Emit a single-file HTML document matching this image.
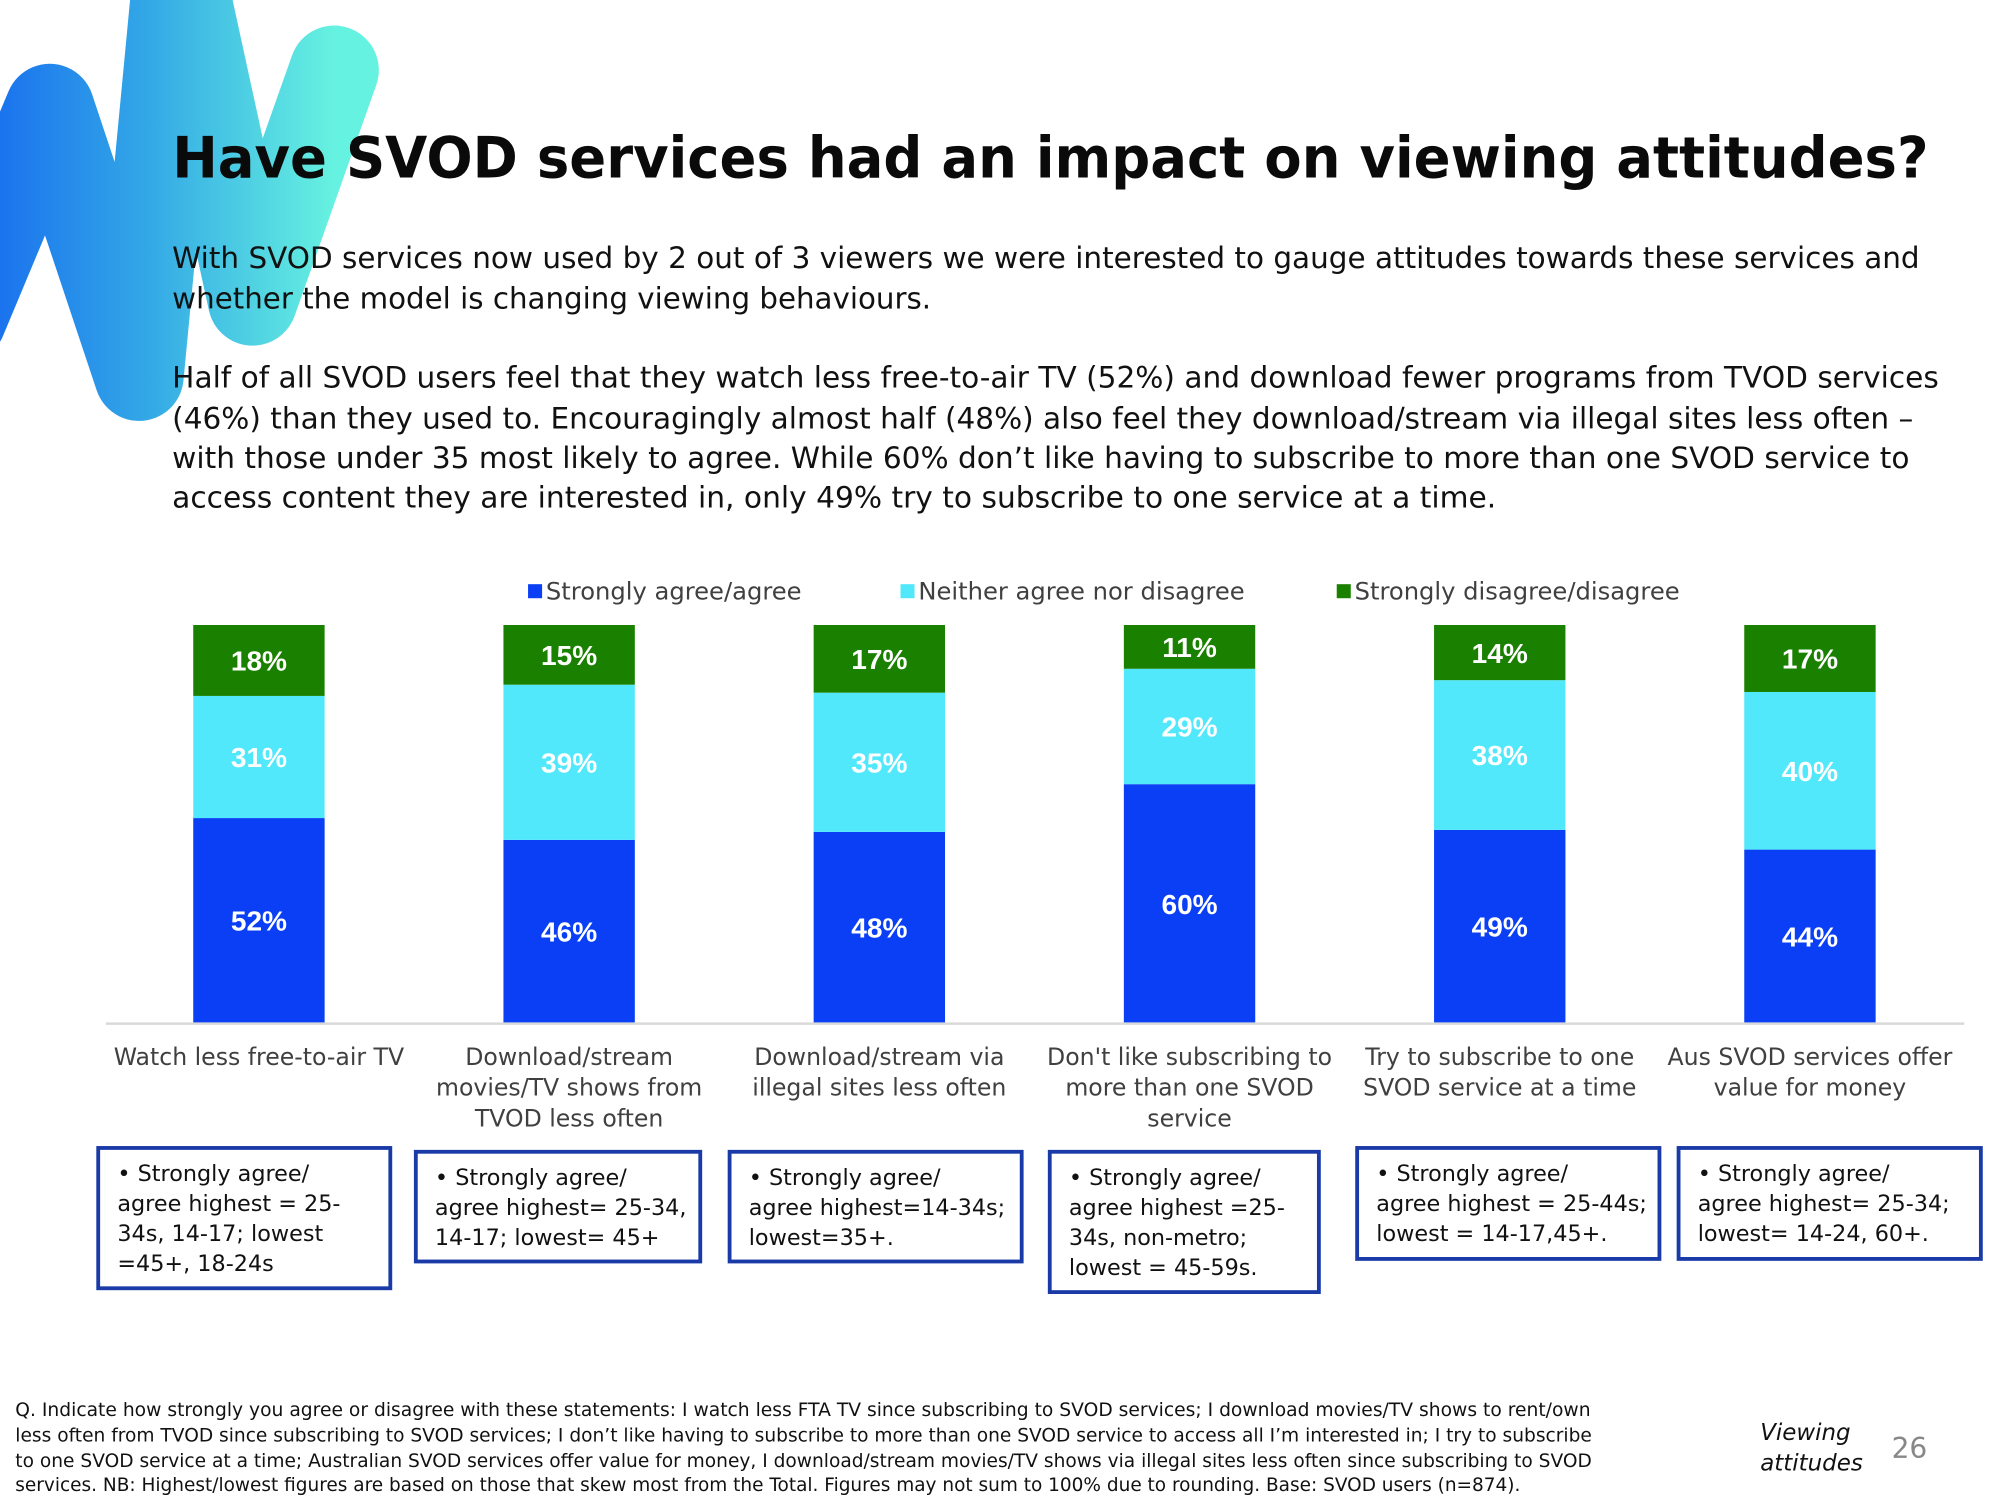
<!DOCTYPE html>
<html><head><meta charset="utf-8">
<style>
html,body{margin:0;padding:0;background:#fff;}
svg{display:block;}
text{font-family:"DejaVu Sans","Liberation Sans",sans-serif;}
text.val{font-family:"Liberation Sans",sans-serif;}
</style></head>
<body>
<svg id="slide" width="2000" height="1500" viewBox="0 0 1568 1176" preserveAspectRatio="none" xmlns="http://www.w3.org/2000/svg">
<defs>
<linearGradient id="lg" x1="0" y1="0" x2="1" y2="0">
<stop offset="0" stop-color="#1466f0"/><stop offset="0.5" stop-color="#33a8e6"/><stop offset="1" stop-color="#66f2e0"/>
</linearGradient>
</defs>
<path d="M -30 250 L 39 85 L 109 295 L 140 -30 M 140 -30 L 198 236 L 262 55" fill="none" stroke="url(#lg)" stroke-width="70" stroke-linejoin="round" stroke-linecap="round"/>
<text x="135" y="139" font-size="45" font-weight="bold" fill="#0a0a0a" textLength="1377" lengthAdjust="spacingAndGlyphs">Have SVOD services had an impact on viewing attitudes?</text>
<g font-size="23" fill="#111">
<text x="135" y="210" textLength="1370" lengthAdjust="spacingAndGlyphs">With SVOD services now used by 2 out of 3 viewers we were interested to gauge attitudes towards these services and</text>
<text x="135" y="242" textLength="595" lengthAdjust="spacingAndGlyphs">whether the model is changing viewing behaviours.</text>
<text x="135" y="304" textLength="1385" lengthAdjust="spacingAndGlyphs">Half of all SVOD users feel that they watch less free-to-air TV (52%) and download fewer programs from TVOD services</text>
<text x="135" y="336" textLength="1365" lengthAdjust="spacingAndGlyphs">(46%) than they used to. Encouragingly almost half (48%) also feel they download/stream via illegal sites less often –</text>
<text x="135" y="367" textLength="1362" lengthAdjust="spacingAndGlyphs">with those under 35 most likely to agree. While 60% don’t like having to subscribe to more than one SVOD service to</text>
<text x="135" y="398" textLength="1038" lengthAdjust="spacingAndGlyphs">access content they are interested in, only 49% try to subscribe to one service at a time.</text>
</g>
<g id="legend" font-size="19" fill="#404040"></g>
<g id="chart"></g>
<line x1="83" y1="802.5" x2="1540" y2="802.5" stroke="#d9d9d9" stroke-width="2"/>
<g id="cats" font-size="19" fill="#404040" text-anchor="middle"></g>
<g id="boxes"></g>
<g font-size="14.5" fill="#111">
<text x="12" y="1110" textLength="1235" lengthAdjust="spacingAndGlyphs">Q. Indicate how strongly you agree or disagree with these statements: I watch less FTA TV since subscribing to SVOD services; I download movies/TV shows to rent/own</text>
<text x="12" y="1130" textLength="1236" lengthAdjust="spacingAndGlyphs">less often from TVOD since subscribing to SVOD services; I don’t like having to subscribe to more than one SVOD service to access all I’m interested in; I try to subscribe</text>
<text x="12" y="1150" textLength="1236" lengthAdjust="spacingAndGlyphs">to one SVOD service at a time; Australian SVOD services offer value for money, I download/stream movies/TV shows via illegal sites less often since subscribing to SVOD</text>
<text x="12" y="1169" textLength="1180" lengthAdjust="spacingAndGlyphs">services. NB: Highest/lowest figures are based on those that skew most from the Total. Figures may not sum to 100% due to rounding. Base: SVOD users (n=874).</text>
</g>
<text x="1380" y="1129" font-size="18" font-style="italic" fill="#111">Viewing</text>
<text x="1380" y="1153" font-size="18" font-style="italic" fill="#111">attitudes</text>
<text x="1483" y="1143" font-size="22" fill="#888">26</text>
</svg>
<script>
const categories = [
  ["Watch less free-to-air TV"],
  ["Download/stream","movies/TV shows from","TVOD less often"],
  ["Download/stream via","illegal sites less often"],
  ["Don't like subscribing to","more than one SVOD","service"],
  ["Try to subscribe to one","SVOD service at a time"],
  ["Aus SVOD services offer","value for money"]
];
const agree = [52, 46, 48, 60, 49, 44];
const neither = [31, 39, 35, 29, 38, 40];
const disagree = [18, 15, 17, 11, 14, 17];
const seriesNames = ["Strongly agree/agree","Neither agree nor disagree","Strongly disagree/disagree"];
const notes = [
  ["•  Strongly agree/","agree highest = 25-","34s, 14-17; lowest","=45+, 18-24s"],
  ["•  Strongly agree/","agree highest= 25-34,","14-17; lowest= 45+"],
  ["•  Strongly agree/","agree highest=14-34s;","lowest=35+."],
  ["•  Strongly agree/","agree highest =25-","34s, non-metro;","lowest = 45-59s."],
  ["•  Strongly agree/","agree highest = 25-44s;","lowest = 14-17,45+."],
  ["•  Strongly agree/","agree highest= 25-34;","lowest= 14-24, 60+."]
];
const NS = "http://www.w3.org/2000/svg";
const colors = ["#0a3ff5","#52e8fb","#1a8000"];
const base = 802, plotH = 312, barW = 103, x0 = 203, step = 243.2;
function xCenter(i){ return x0 + i*step; }
function yScale(v, total){ return v/total*plotH; }
function mk(tag, attrs, parent){ const e=document.createElementNS(NS,tag); for(const k in attrs) e.setAttribute(k,attrs[k]); parent.appendChild(e); return e; }
const chart = document.getElementById('chart');
const series = [agree, neither, disagree];
for (let i=0;i<categories.length;i++){
  const total = agree[i]+neither[i]+disagree[i];
  let y = base;
  for (let s=0;s<3;s++){
    const h = yScale(series[s][i], total);
    y -= h;
    const r = mk('rect',{x:xCenter(i)-barW/2,y:y,width:barW,height:h,fill:colors[s]},chart);
    
    
    const t = mk('text',{x:xCenter(i),y:y+h/2+8,'font-size':22,'font-weight':'bold',fill:'#fff','text-anchor':'middle','class':'val'},chart);
    t.textContent = series[s][i] + '%';
    
    
  }
}
const legend = document.getElementById('legend');
const lx = [414, 706, 1048];
for (let s=0;s<3;s++){
  const r = mk('rect',{x:lx[s],y:458,width:11,height:11,fill:colors[s]},legend);
  
  
  const t = mk('text',{x:lx[s]+14,y:470},legend);
  t.textContent = seriesNames[s];
  
  
}
const cats = document.getElementById('cats');
for (let i=0;i<categories.length;i++){
  categories[i].forEach((ln,j)=>{
    const t = mk('text',{x:xCenter(i),y:835+j*24,'font-size':18.5},cats);
    t.textContent = ln;
    
    
  });
}
const boxes = document.getElementById('boxes');
const bx = [[77,900,229,110],[326,903,223,86],[572,903,229,86],[823,903,211,110],[1064,900,237,87],[1316,900,237,87]];
for (let i=0;i<notes.length;i++){
  const b = bx[i];
  const r = mk('rect',{x:b[0],y:b[1],width:b[2],height:b[3],fill:'#fff',stroke:'#1a3aa8','stroke-width':3},boxes);
  
  
  notes[i].forEach((ln,j)=>{
    const t = mk('text',{x:b[0]+15,y:b[1]+26+j*23.5,'font-size':17.5,fill:'#111'},boxes);
    t.textContent = ln;
    
    
  });
}
</script>
</body></html>
